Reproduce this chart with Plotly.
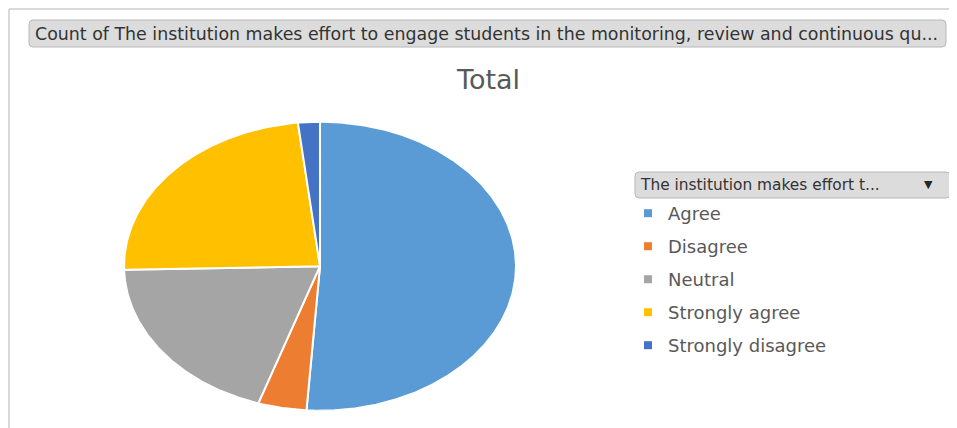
import numpy as np
import plotly.graph_objects as go

categories = ["Agree", "Disagree", "Neutral", "Strongly agree", "Strongly disagree"]
values = [51.1, 4.0, 19.5, 23.6, 1.8]
colors = ["#5B9BD5", "#ED7D31", "#A5A5A5", "#FFC000", "#4472C4"]
header_text = "Count of The institution makes effort to engage students in the monitoring, review and continuous qu..."
legend_header = "The institution makes effort t..."
title_text = "Total"

# the page body has an 8px margin; work in page pixels and convert
OFF = 8
W, H = 957 - OFF, 428 - OFF
fig = go.Figure()

# pie slices on a unit circle, stretched by axis scales (Excel-like elliptical pie)
total = sum(values)
start = 90.0
for cat, val, col in zip(categories, values, colors):
    sweep = 360.0 * val / total
    th = np.radians(np.linspace(start, start - sweep, max(int(sweep * 2), 4)))
    xs = np.concatenate([[0], np.cos(th), [0]])
    ys = np.concatenate([[0], np.sin(th), [0]])
    fig.add_trace(go.Scatter(x=xs, y=ys, fill="toself", fillcolor=col, mode="lines",
                             line=dict(color="white", width=2), showlegend=False,
                             name=cat, hoverinfo="name"))
    start -= sweep

# legend entries
for i, (cat, col) in enumerate(zip(categories, colors)):
    fig.add_trace(go.Scatter(x=[None], y=[None], mode="markers", name=cat,
                             legendgroup=f"g{i}",
                             marker=dict(symbol="square", size=8, color=col)))

def px_x(p):
    return (p - OFF) / W

def px_y(p):
    return 1 - (p - OFF) / H

def rounded(x0, y0, x1, y1, r):
    X0, X1 = px_x(x0), px_x(x1)
    Y0, Y1 = px_y(y0), px_y(y1)
    rx, ry = r / W, r / H
    return (f"M {X0+rx},{Y0} L {X1-rx},{Y0} Q {X1},{Y0} {X1},{Y0-ry} "
            f"L {X1},{Y1+ry} Q {X1},{Y1} {X1-rx},{Y1} L {X0+rx},{Y1} "
            f"Q {X0},{Y1} {X0},{Y1+ry} L {X0},{Y0-ry} Q {X0},{Y0} {X0+rx},{Y0} Z")

shapes = [
    dict(type="line", xref="paper", yref="paper", x0=px_x(9), x1=1, y0=px_y(9), y1=px_y(9),
         line=dict(color="#D9D9D9", width=2)),
    dict(type="line", xref="paper", yref="paper", x0=px_x(9), x1=px_x(9), y0=px_y(9), y1=0,
         line=dict(color="#D9D9D9", width=2)),
    dict(type="path", xref="paper", yref="paper", path=rounded(29, 20, 946, 47, 4),
         fillcolor="#DCDCDC", line=dict(color="#B8B8B8", width=1)),
    dict(type="path", xref="paper", yref="paper", path=rounded(635, 172, 950, 198, 4),
         fillcolor="#DCDCDC", line=dict(color="#B8B8B8", width=1)),
]

annotations = [
    dict(text=header_text, xref="paper", yref="paper", x=px_x(33), y=px_y(34),
         xanchor="left", yanchor="middle", showarrow=False,
         font=dict(family="DejaVu Sans", size=17.4, color="#333333")),
    dict(text=title_text, xref="paper", yref="paper", x=px_x(488), y=px_y(79),
         xanchor="center", yanchor="middle", showarrow=False,
         font=dict(family="DejaVu Sans", size=27, color="#595959")),
    dict(text=legend_header, xref="paper", yref="paper", x=px_x(638), y=px_y(185),
         xanchor="left", yanchor="middle", showarrow=False,
         font=dict(family="DejaVu Sans", size=15.4, color="#333333")),
    dict(text="▼", xref="paper", yref="paper", x=px_x(928), y=px_y(184),
         xanchor="center", yanchor="middle", showarrow=False,
         font=dict(family="DejaVu Sans", size=11, color="#262626")),
]

fig.update_layout(
    width=W, height=H,
    margin=dict(l=0, r=0, t=0, b=0),
    paper_bgcolor="white", plot_bgcolor="white",
    xaxis=dict(domain=[px_x(124), px_x(516)], range=[-1, 1], visible=False, fixedrange=True),
    yaxis=dict(domain=[px_y(410.7), px_y(121.7)], range=[-1, 1], visible=False, fixedrange=True),
    shapes=shapes,
    annotations=annotations,
    showlegend=True,
    legend=dict(x=px_x(628), y=px_y(195), xanchor="left", yanchor="top",
                traceorder="grouped", tracegroupgap=6.6,
                font=dict(family="DejaVu Sans", size=18, color="#595959"),
                bgcolor="rgba(0,0,0,0)", itemclick=False, itemdoubleclick=False),
)

fig.write_html("out.html")
